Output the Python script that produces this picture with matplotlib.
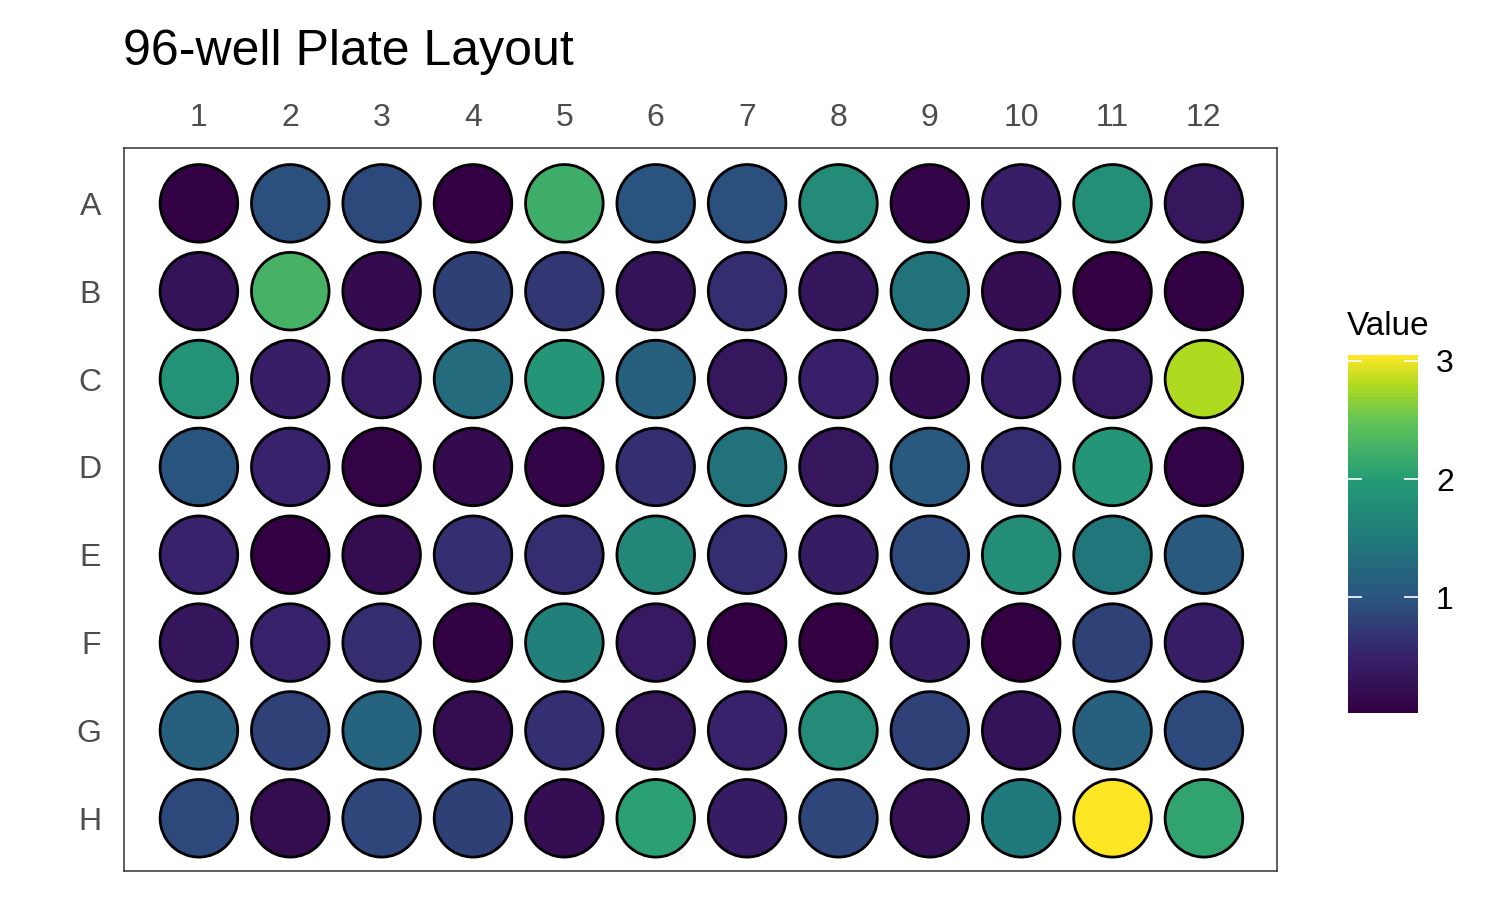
import matplotlib
matplotlib.use("Agg")
import matplotlib.pyplot as plt
import numpy as np
from matplotlib.colors import LinearSegmentedColormap, Normalize
from matplotlib.colorbar import ColorbarBase

plt.rcParams['font.family'] = ['Liberation Sans', 'DejaVu Sans']

rows = ["A", "B", "C", "D", "E", "F", "G", "H"]
cols = [str(i) for i in range(1, 13)]

row_A = [0.05, 0.95, 0.88, 0.04, 2.20, 1.00, 0.95, 1.75, 0.10, 0.45, 1.80, 0.35]
row_B = [0.30, 2.28, 0.18, 0.80, 0.70, 0.30, 0.62, 0.32, 1.40, 0.22, 0.03, 0.05]
row_C = [1.85, 0.45, 0.40, 1.30, 1.90, 1.15, 0.33, 0.48, 0.22, 0.43, 0.38, 2.80]
row_D = [1.00, 0.50, 0.07, 0.18, 0.08, 0.63, 1.40, 0.35, 1.05, 0.62, 1.90, 0.08]
row_E = [0.50, 0.04, 0.20, 0.63, 0.62, 1.70, 0.62, 0.42, 0.88, 1.78, 1.45, 1.05]
row_F = [0.32, 0.50, 0.62, 0.05, 1.60, 0.38, 0.04, 0.03, 0.42, 0.02, 0.82, 0.43]
row_G = [1.15, 0.82, 1.18, 0.20, 0.63, 0.33, 0.50, 1.75, 0.82, 0.30, 1.15, 0.88]
row_H = [0.88, 0.20, 0.86, 0.80, 0.22, 2.05, 0.42, 0.86, 0.25, 1.50, 3.05, 2.08]

values = np.array([row_A, row_B, row_C, row_D, row_E, row_F, row_G, row_H])
cbar_ticks = [1, 2, 3]

vmin, vmax = values.min(), values.max()

def t(v):
    return (v - vmin) / (vmax - vmin)

cmap = LinearSegmentedColormap.from_list("vir", [
    (0.0, "#330042"),
    (t(0.5), "#37226b"),
    (t(1.0), "#2a5580"),
    (t(1.5), "#207a7b"),
    (t(2.0), "#259c75"),
    (t(2.5), "#62c458"),
    (t(2.8), "#b0da20"),
    (1.0, "#fde725"),
])
norm = Normalize(vmin=vmin, vmax=vmax)

fig = plt.figure(figsize=(15, 9), dpi=100)
W, H = 1500, 900
ax = fig.add_axes([124 / W, (H - 871) / H, (1277 - 124) / W, (871 - 148) / H])

xs, ys, cs = [], [], []
for i, r in enumerate(rows):
    for j, c in enumerate(cols):
        xs.append(j + 1)
        ys.append(i + 1)
        cs.append(values[i, j])

ax.scatter(xs, ys, c=cs, cmap=cmap, norm=norm, s=3120, edgecolors="black",
           linewidths=2.0, zorder=3)

ax.set_xlim(0.18, 12.80)
ax.set_ylim(8.60, 0.37)
ax.set_xticks(range(1, 13))
ax.set_xticklabels(cols)
ax.set_yticks(range(1, 9))
ax.set_yticklabels(rows)
ax.xaxis.tick_top()
ax.tick_params(axis="both", length=0, labelsize=23, labelcolor="#4d4d4d")
ax.tick_params(axis="x", pad=10.7)
ax.tick_params(axis="y", pad=16.5)
for sp in ax.spines.values():
    sp.set_color("#333333")
    sp.set_linewidth(1.1)

fig.text(123 / W, 1 - 65 / H, "96-well Plate Layout", fontsize=36, ha="left",
         va="baseline", color="black")

cax = fig.add_axes([1348 / W, (H - 713) / H, 70 / W, (713 - 355) / H])
cb = ColorbarBase(cax, cmap=cmap, norm=norm, orientation="vertical")
cb.outline.set_visible(False)
cb.set_ticks(cbar_ticks)
cb.set_ticklabels([str(v) for v in cbar_ticks])
cax.tick_params(axis="y", length=0, labelsize=23, labelcolor="black", pad=13)
for v in cbar_ticks:
    cax.plot([0, 0.2], [v, v], color="white", lw=1.2, solid_capstyle="butt",
             transform=cax.get_yaxis_transform())
    cax.plot([0.8, 1.0], [v, v], color="white", lw=1.2, solid_capstyle="butt",
             transform=cax.get_yaxis_transform())
fig.text(1347 / W, 1 - 335 / H, "Value", fontsize=24, ha="left", va="baseline",
         color="black")

fig.savefig("out.png", dpi=100, facecolor="white")
